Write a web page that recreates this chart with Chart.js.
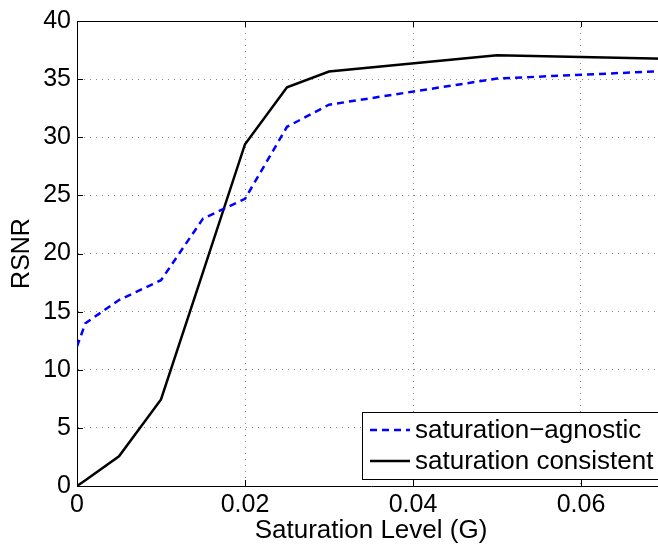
<!DOCTYPE html>
<html>
<head>
<meta charset="utf-8">
<script src="https://cdn.jsdelivr.net/npm/chart.js@4/dist/chart.umd.min.js"></script>
<style>
  html, body { margin: 0; padding: 0; overflow: hidden; background: #fff; }
  canvas { display: block; }
</style>
</head>
<body>
<canvas id="myChart" width="665" height="544"></canvas>
<script>
// values
var xValues = [0, 0.001, 0.005, 0.01, 0.015, 0.02, 0.025, 0.03, 0.05, 0.07];
var agnostic = [12.0, 14.0, 16.0, 17.7, 23.0, 24.7, 30.9, 32.8, 35.05, 35.7];
var consistent = [0, 0.5, 2.55, 7.45, 18.4, 29.4, 34.3, 35.65, 37.05, 36.75];
var xTicks = [0, 0.02, 0.04, 0.06];
var yTicks = [0, 5, 10, 15, 20, 25, 30, 35, 40];
var seriesNames = ['saturation\u2212agnostic', 'saturation consistent'];

var FONT = 'Liberation Sans, Arial, Helvetica, sans-serif';

function pts(ys) {
  return xValues.map(function (x, i) { return { x: x, y: ys[i] }; });
}

// MATLAB style inward ticks, top box line and legend
var boxPlugin = {
  id: 'box',
  afterDraw: function (chart) {
    var c = chart.ctx, a = chart.chartArea;
    var xs = chart.scales.x, ys = chart.scales.y;
    c.save();
    c.strokeStyle = '#000';
    c.lineWidth = 1;
    c.beginPath();
    c.moveTo(a.left, a.top + 0.5);
    c.lineTo(a.right, a.top + 0.5);
    xTicks.forEach(function (v) {
      var px = Math.round(xs.getPixelForValue(v)) + 0.5;
      c.moveTo(px, a.bottom); c.lineTo(px, a.bottom - 6);
      c.moveTo(px, a.top); c.lineTo(px, a.top + 6);
    });
    yTicks.forEach(function (v) {
      var py = Math.round(ys.getPixelForValue(v)) + 0.5;
      c.moveTo(a.left, py); c.lineTo(a.left + 6, py);
    });
    c.stroke();

    // legend
    var bx = a.right - 303, by = a.bottom - 74, bw = 298, bh = 67;
    c.fillStyle = '#fff';
    c.fillRect(bx, by, bw, bh);
    c.strokeRect(bx + 0.5, by + 0.5, bw, bh);
    var rows = [by + 18, by + 49];
    chart.data.datasets.forEach(function (ds, i) {
      c.beginPath();
      c.strokeStyle = ds.borderColor;
      c.lineWidth = ds.borderWidth;
      c.setLineDash(ds.borderDash || []);
      c.moveTo(bx + 8, rows[i]);
      c.lineTo(bx + 48, rows[i]);
      c.stroke();
      c.setLineDash([]);
      c.fillStyle = '#000';
      c.font = '26px ' + FONT;
      c.textBaseline = 'middle';
      c.textAlign = 'left';
      c.fillText(seriesNames[i], bx + 53, rows[i] + 1);
    });
    c.restore();
  }
};

var ctx = document.getElementById('myChart').getContext('2d');
var chart = new Chart(ctx, {
  type: 'line',
  data: {
    datasets: [{
      label: seriesNames[0],
      data: pts(agnostic),
      borderColor: '#0000ff',
      borderWidth: 2.5,
      borderDash: [7, 5],
      pointRadius: 0,
      fill: false
    }, {
      label: seriesNames[1],
      data: pts(consistent),
      borderColor: '#000000',
      borderWidth: 2.5,
      pointRadius: 0,
      fill: false
    }]
  },
  options: {
    responsive: false,
    animation: false,
    devicePixelRatio: 1,
    layout: { padding: { top: 19, right: 0, left: 0, bottom: 0 } },
    plugins: {
      legend: { display: false },
      tooltip: { enabled: false }
    },
    scales: {
      x: {
        type: 'linear',
        min: 0,
        max: 0.07,
        afterBuildTicks: function (s) { s.ticks = xTicks.map(function (v) { return { value: v }; }); },
        afterFit: function (s) { s.height = 58; },
        ticks: {
          color: '#000',
          font: { family: FONT, size: 25 },
          padding: 4,
          maxRotation: 0,
          callback: function (v) { return String(v); }
        },
        grid: {
          drawTicks: false,
          color: function (c) { return c.tick && c.tick.value === 0 ? 'rgba(0,0,0,0)' : '#888'; },
          lineWidth: 1
        },
        border: { display: true, color: '#000', width: 1, dash: [1, 5] },
        title: {
          display: true,
          text: 'Saturation Level (G)',
          color: '#000',
          font: { family: FONT, size: 26, lineHeight: 1 },
          padding: { top: 0, bottom: 0 }
        }
      },
      y: {
        min: 0,
        max: 40,
        afterBuildTicks: function (s) { s.ticks = yTicks.map(function (v) { return { value: v }; }); },
        afterFit: function (s) { s.width = 77; },
        ticks: {
          color: '#000',
          font: { family: FONT, size: 25 },
          padding: 6,
          callback: function (v) { return String(v); }
        },
        grid: {
          drawTicks: false,
          color: function (c) {
            return c.tick && (c.tick.value === 0 || c.tick.value === 40) ? 'rgba(0,0,0,0)' : '#888';
          },
          lineWidth: 1
        },
        border: { display: true, color: '#000', width: 1, dash: [1, 5] },
        title: {
          display: true,
          text: 'RSNR',
          color: '#000',
          font: { family: FONT, size: 25, lineHeight: 1 },
          padding: { top: 10, bottom: 0 }
        }
      }
    }
  },
  plugins: [boxPlugin]
});
</script>
</body>
</html>
